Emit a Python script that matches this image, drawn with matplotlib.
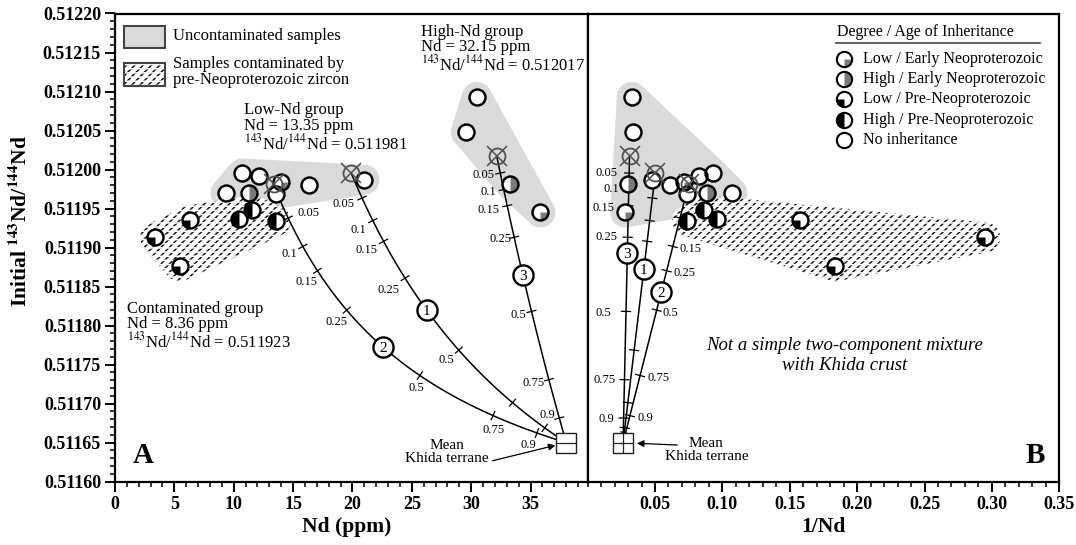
import numpy as np
import matplotlib
matplotlib.use('Agg')
import matplotlib.pyplot as plt
from matplotlib.patches import Polygon, Rectangle
from matplotlib.path import Path
from matplotlib.ticker import MultipleLocator, FormatStrFormatter, FixedLocator

plt.rcParams['font.family'] = ['Liberation Serif', 'DejaVu Serif']
plt.rcParams['mathtext.fontset'] = 'stix'
plt.rcParams['hatch.linewidth'] = 1.1

# ---------------- data ----------------
sample_nd = [10.72, 12.13, 9.31, 11.28, 13.54, 13.97, 16.31, 21.0,
             30.47, 29.54, 33.29, 35.83,
             11.57, 10.44, 13.54, 6.35, 3.39, 5.44]
sample_ratio = [0.511995, 0.511992, 0.511970, 0.511970, 0.511969, 0.511984, 0.511980, 0.511987,
                0.512093, 0.512048, 0.511981, 0.511945,
                0.511948, 0.511937, 0.511934, 0.511935, 0.511913, 0.511876]
sample_inherit = ['none', 'none', 'none', 'high_early', 'none', 'low_early', 'none', 'none',
                  'none', 'none', 'high_early', 'low_early',
                  'high_pre', 'high_pre', 'high_pre', 'low_pre', 'low_pre', 'low_pre']
sample_group = ['low'] * 8 + ['high'] * 4 + ['cont'] * 6

mean_names = ['1', '2', '3']
mean_nd = [19.9, 13.35, 32.15]
mean_ratio = [0.511995, 0.511981, 0.512017]
khida_nd = 38.0
khida_ratio = 0.51165
mix_fractions = [0.05, 0.1, 0.15, 0.25, 0.5, 0.75, 0.9]
number_f_A = [0.35, 0.374, 0.374]
number_f_B = [0.223, 0.201, 0.302]

legend_keys = ['low_early', 'high_early', 'low_pre', 'high_pre', 'none']
legend_names = ['Low / Early Neoproterozoic', 'High / Early Neoproterozoic',
                'Low / Pre-Neoproterozoic', 'High / Pre-Neoproterozoic', 'No inheritance']

# label layout on mixing curves: (fraction at tick, text, dx pt, dy pt)
labels_A = [
    [(0.05, '0.05', -13.7, -4), (0.1, '0.1', -10.7, -6.6), (0.15, '0.15', -12.3, -6.3),
     (0.25, '0.25', -12.2, -8.7), (0.5, '0.5', -8.6, -7.4)],
    [(0.05, '0.05', 15, 3.3), (0.1, '0.1', -9.6, -5.3), (0.15, '0.15', -8.2, -8.4),
     (0.25, '0.25', -7.6, -8.5), (0.5, '0.5', -2.4, -9.3), (0.75, '0.75', 0.4, -10.7),
     (0.9, '0.9', -5.9, -8.5)],
    [(0.05, '0.05', -12, -1.4), (0.1, '0.1', -10.8, -2.1), (0.15, '0.15', -13.3, -2.8),
     (0.25, '0.25', -10, -1.4), (0.5, '0.5', -9.1, -2.5), (0.75, '0.75', -10.8, -2.4),
     (0.9, '0.9', -8.7, 1.9)],
]
labels_B = [
    [],
    [(0.1, '0.15', 12.4, -1.7), (0.15, '0.25', 13.2, -1.7), (0.25, '0.5', 9.6, -2.4),
     (0.5, '0.75', 13.1, -2.1), (0.75, '0.9', 10.9, -1.5)],
    [(0.05, '0.05', -16, 0), (0.1, '0.1', -12.3, 0.4), (0.15, '0.15', -18, -1.4),
     (0.25, '0.25', -15, 0), (0.5, '0.5', -16.3, -1.3), (0.75, '0.75', -14, -0.5),
     (0.9, '0.9', -12.2, -0.5)],
]

WEDGES = {'low_early': (Path.wedge(270, 360), '#7a7a7a'),
          'high_early': (Path.wedge(-90, 90), '#7a7a7a'),
          'low_pre': (Path.wedge(180, 270), 'black'),
          'high_pre': (Path.wedge(90, 270), 'black')}

# ---------------- figure ----------------
W, H = 1076, 545
fig = plt.figure(figsize=(W / 100, H / 100), dpi=100)
bot = 1 - 481.7 / H
hgt = (481.7 - 13.5) / H
axA = fig.add_axes([115 / W, bot, (587.6 - 115) / W, hgt])
axB = fig.add_axes([587.6 / W, bot, (1059.3 - 587.6) / W, hgt])

ylo, yhi = 0.51160, 0.51220
axA.set_xlim(0, 39.8)
axB.set_xlim(0, 0.35)
for ax in (axA, axB):
    ax.set_ylim(ylo, yhi)
    for s in ax.spines.values():
        s.set_linewidth(1.6)
    ax.tick_params(which='major', direction='out', length=7, width=1.4, labelsize=13, pad=3)
    ax.tick_params(which='minor', direction='out', length=3.5, width=1.1)
    ax.tick_params(top=False, right=False)

axA.xaxis.set_major_locator(MultipleLocator(5))
axA.xaxis.set_minor_locator(MultipleLocator(1))
axA.set_xticks([0, 5, 10, 15, 20, 25, 30, 35])
axA.yaxis.set_major_locator(MultipleLocator(0.00005))
axA.yaxis.set_minor_locator(MultipleLocator(0.00001))
axA.yaxis.set_major_formatter(FormatStrFormatter('%.5f'))
axB.xaxis.set_major_locator(FixedLocator([0.05, 0.10, 0.15, 0.20, 0.25, 0.30, 0.35]))
axB.xaxis.set_minor_locator(MultipleLocator(0.01))
axB.xaxis.set_major_formatter(FormatStrFormatter('%.2f'))
axB.tick_params(axis='y', which='both', left=False, labelleft=False)
for ax in (axA, axB):
    for lab in ax.get_xticklabels() + ax.get_yticklabels():
        lab.set_fontweight('bold')

fig.text(0.3225, 0.033, 'Nd (ppm)', ha='center', va='center', fontsize=15.5, fontweight='bold')
fig.text(0.765, 0.033, '1/Nd', ha='center', va='center', fontsize=15.5, fontweight='bold')
fig.text(0.019, 0.595, r'Initial $^{\mathbf{143}}$Nd/$^{\mathbf{144}}$Nd', rotation=90,
         ha='center', va='center', fontsize=15.5, fontweight='bold')

nd = np.array(sample_nd)
rr = np.array(sample_ratio)
grp = np.array(sample_group)


def convex_hull(P):
    P = sorted(map(tuple, P))

    def cross(o, a, b):
        return (a[0] - o[0]) * (b[1] - o[1]) - (a[1] - o[1]) * (b[0] - o[0])
    lower, upper = [], []
    for p in P:
        while len(lower) >= 2 and cross(lower[-2], lower[-1], p) <= 0:
            lower.pop()
        lower.append(p)
    for p in reversed(P):
        while len(upper) >= 2 and cross(upper[-2], upper[-1], p) <= 0:
            upper.pop()
        upper.append(p)
    return np.array(lower[:-1] + upper[:-1])


def hatch_patches(ax, make):
    ax.add_patch(make(facecolor='white', edgecolor='#111111', linewidth=0, hatch='////'))
    ax.add_patch(make(facecolor='none', edgecolor='white', linewidth=0, hatch='----'))


def region(ax, xs, ys, pad, kind):
    pts = ax.transData.transform(np.column_stack([xs, ys]))
    ang = np.linspace(0, 2 * np.pi, 48, endpoint=False)
    ring = np.column_stack([np.cos(ang), np.sin(ang)]) * pad
    cloud = (pts[:, None, :] + ring[None, :, :]).reshape(-1, 2)
    hull = ax.transData.inverted().transform(convex_hull(cloud))
    if kind == 'gray':
        ax.add_patch(Polygon(hull, closed=True, facecolor='#dadada', edgecolor='none', zorder=0.5))
    else:
        hatch_patches(ax, lambda **kw: Polygon(hull, closed=True, zorder=0.6, **kw))


def draw_symbol(ax, x, y, kind, ms, mew, z, transform=None):
    kw = {} if transform is None else {'transform': transform, 'clip_on': False}
    ax.plot([x], [y], marker='o', ms=ms, mfc='white', mec='none', ls='none', zorder=z, **kw)
    if kind in WEDGES:
        path, col = WEDGES[kind]
        ax.plot([x], [y], marker=path, ms=ms, mfc=col, mec='none', ls='none', zorder=z + 0.01, **kw)
    ax.plot([x], [y], marker='o', ms=ms, mfc='none', mec='black', mew=mew, ls='none',
            zorder=z + 0.02, **kw)


def mix(f, ndm, rm):
    f = np.asarray(f, dtype=float)
    n = f * khida_nd + (1 - f) * ndm
    r = (f * khida_nd * khida_ratio + (1 - f) * ndm * rm) / n
    return n, r


def draw_panel(ax, inv, hull_sets, labels, number_f):
    xf = (lambda v: 1.0 / np.asarray(v)) if inv else (lambda v: np.asarray(v))
    for mask, kind in hull_sets:
        region(ax, xf(nd[mask]), rr[mask], 15, kind)
    fs = np.linspace(0, 1, 400)
    for i in range(3):
        n, r = mix(fs, mean_nd[i], mean_ratio[i])
        ax.plot(xf(n), r, color='black', lw=1.1, zorder=2)
        for f in mix_fractions:
            n0, r0 = mix([f - 1e-4, f, f + 1e-4], mean_nd[i], mean_ratio[i])
            P = ax.transData.transform(np.column_stack([xf(n0), r0]))
            t = P[2] - P[0]
            t /= np.hypot(*t)
            nrm = np.array([-t[1], t[0]])
            seg = np.array([P[1] + 4.5 * nrm, P[1] - 4.5 * nrm])
            seg = ax.transData.inverted().transform(seg)
            ax.plot(seg[:, 0], seg[:, 1], color='black', lw=0.9, zorder=2)
        for f, txt, dx, dy in labels[i]:
            n0, r0 = mix(f, mean_nd[i], mean_ratio[i])
            ax.annotate(txt, xy=(float(xf(n0)), float(r0)), xytext=(dx, dy),
                        textcoords='offset points', ha='center', va='center', fontsize=9, zorder=3)
        n0, r0 = mix(number_f[i], mean_nd[i], mean_ratio[i])
        ax.plot([float(xf(n0))], [float(r0)], marker='o', ms=14.5, mfc='white', mec='black',
                mew=1.7, ls='none', zorder=5)
        ax.text(float(xf(n0)), float(r0), mean_names[i], ha='center', va='center_baseline',
                fontsize=11, zorder=6)
    for x, y, k in zip(xf(nd), rr, sample_inherit):
        draw_symbol(ax, x, y, k, 11.5, 1.75, 3)
    for i in range(3):
        x = float(xf(mean_nd[i]))
        ax.plot([x], [mean_ratio[i]], marker='o', ms=11.5, mfc='none', mec='#505050', mew=1.3,
                ls='none', zorder=4.5)
        ax.plot([x], [mean_ratio[i]], marker='x', ms=15, mec='#505050', mew=1.1, ls='none', zorder=4.5)
    kx = float(xf(khida_nd))
    ax.plot([kx], [khida_ratio], marker='s', ms=14, mfc='white', mec='#222222', mew=1.0,
            ls='none', zorder=6)
    ax.plot([kx], [khida_ratio], marker='+' if inv else '_', ms=14, mec='#222222', mew=0.9,
            ls='none', zorder=6.1)
    return kx


kA = draw_panel(axA, False, [(grp == 'low', 'gray'), (grp == 'high', 'gray'), (grp == 'cont', 'hatch')],
                labels_A, number_f_A)
kB = draw_panel(axB, True, [(grp != 'cont', 'gray'), (grp == 'cont', 'hatch')], labels_B, number_f_B)

# ---------------- annotations panel A ----------------
tfs = 12
axA.text(25.8, 0.512187, 'High-Nd group\nNd = 32.15 ppm\n$^{143}$Nd/$^{144}$Nd = 0.512017',
         ha='left', va='top', fontsize=tfs, linespacing=0.95)
axA.text(10.86, 0.512086, 'Low-Nd group\nNd = 13.35 ppm\n$^{143}$Nd/$^{144}$Nd = 0.511981',
         ha='left', va='top', fontsize=tfs, linespacing=0.95)
axA.text(1.0, 0.511832, 'Contaminated group\nNd = 8.36 ppm\n$^{143}$Nd/$^{144}$Nd = 0.511923',
         ha='left', va='top', fontsize=tfs, linespacing=0.95)
axA.add_patch(Rectangle((0.019, 0.926), 0.087, 0.047, transform=axA.transAxes,
                        facecolor='#dadada', edgecolor='#444444', lw=1.5, zorder=5))
hatch_patches(axA, lambda **kw: Rectangle((0.019, 0.845), 0.087, 0.049, transform=axA.transAxes,
                                          zorder=5, **kw))
axA.add_patch(Rectangle((0.019, 0.845), 0.087, 0.049, transform=axA.transAxes,
                        facecolor='none', edgecolor='#444444', lw=1.5, zorder=5.2))
axA.text(0.122, 0.9526, 'Uncontaminated samples', transform=axA.transAxes, ha='left',
         va='center', fontsize=tfs)
axA.text(0.122, 0.875, 'Samples contaminated by\npre-Neoproterozoic zircon', transform=axA.transAxes,
         ha='left', va='center', fontsize=tfs, linespacing=0.95)
axA.text(0.06, 0.057, 'A', transform=axA.transAxes, ha='center', va='center', fontsize=21,
         fontweight='bold')
axA.annotate('Mean\nKhida terrane', xy=(kA, khida_ratio), xytext=(-86, -7), textcoords='offset points',
             ha='center', va='center', fontsize=11, linespacing=1.0)
axA.annotate('', xy=(kA, khida_ratio), xytext=(-53, -13), textcoords='offset points',
             arrowprops=dict(arrowstyle='-|>', color='black', lw=0.9, shrinkA=0, shrinkB=8,
                             mutation_scale=10))

# ---------------- annotations panel B ----------------
axB.annotate('Mean\nKhida terrane', xy=(kB, khida_ratio), xytext=(60, -5), textcoords='offset points',
             ha='center', va='center', fontsize=11, linespacing=1.0)
axB.annotate('', xy=(kB, khida_ratio), xytext=(39, -1.7), textcoords='offset points',
             arrowprops=dict(arrowstyle='-|>', color='black', lw=0.9, shrinkA=0, shrinkB=10,
                             mutation_scale=10))
axB.text(0.191, 0.511762, 'Not a simple two-component mixture\nwith Khida crust', ha='center',
         va='center', fontsize=13.5, style='italic', linespacing=1.25)
axB.text(0.948, 0.057, 'B', transform=axB.transAxes, ha='center', va='center', fontsize=21,
         fontweight='bold')
axB.text(0.528, 0.960, 'Degree / Age of Inheritance', transform=axB.transAxes, ha='left',
         va='center', fontsize=11.5)
axB.plot([0.526, 0.959], [0.936, 0.936], transform=axB.transAxes, color='#444444', lw=1.2)
leg_y = [0.902, 0.860, 0.817, 0.773, 0.730]
for k, name, y in zip(legend_keys, legend_names, leg_y):
    draw_symbol(axB, 0.5436, y, k, 11, 1.5, 7, transform=axB.transAxes)
    axB.text(0.583, y, name, transform=axB.transAxes, ha='left', va='center', fontsize=11.5)

fig.savefig('out.png', dpi=100)
